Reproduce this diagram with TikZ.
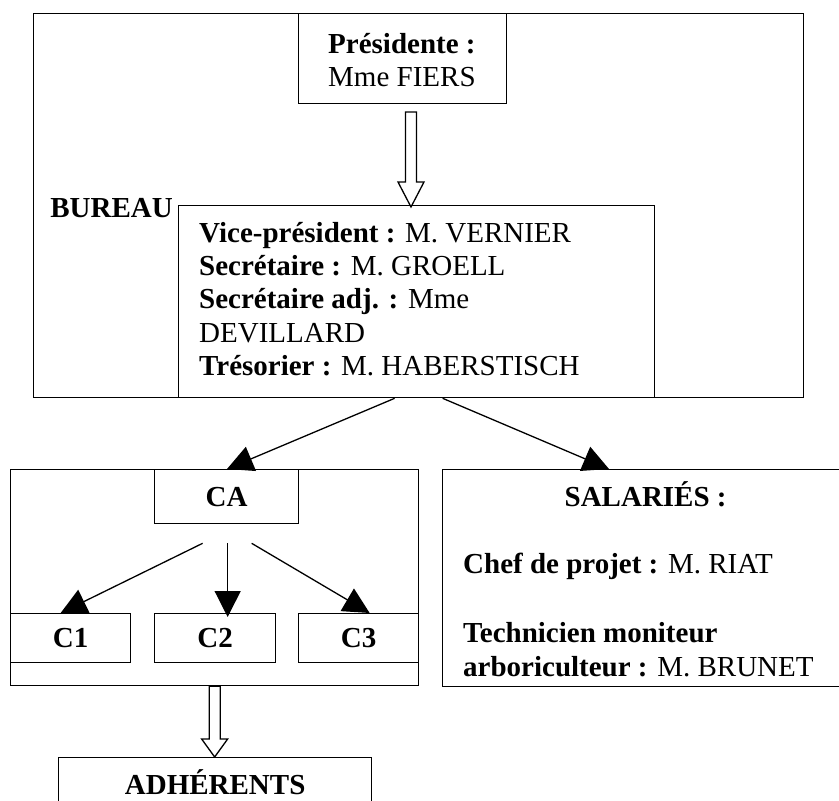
\documentclass[tikz,border=0pt]{standalone}
\usepackage{fontspec}
\setmainfont{Liberation Serif}
\usetikzlibrary{positioning,calc,arrows.meta}

\tikzset{
  box/.style={draw, line width=1.3pt, inner sep=0pt, anchor=north west},
  txt/.style={inner sep=0pt, align=left, anchor=north west},
  link/.style={line width=1.3pt, -{Triangle[length=26pt,width=26pt]}},
  hollow/.style={draw, line width=1.3pt, fill=white, line join=miter}
}
% hollow block arrow: start, tip, head length
\newcommand{\hollowarrow}[3]{%
  \draw[hollow] let \p1=(#1), \p2=(#2) in
    (\x1-5.5pt,\y1) -- (\x1-5.5pt,\y2+#3) -- (\x1-13pt,\y2+#3) -- (\x1,\y2)
    -- (\x1+13pt,\y2+#3) -- (\x1+5.5pt,\y2+#3) -- (\x1+5.5pt,\y1) -- cycle;}

\begin{document}
\begin{tikzpicture}[x=1pt, y=-1pt, font=\fontsize{29}{33.3}\selectfont]
\clip (0,0) rectangle (839,801);
\fill[white] (0,0) rectangle (839,801);

% bureau
\node[box, minimum width=770pt, minimum height=384pt] (bureau) at (33,13) {};
\node[box, minimum width=208pt, minimum height=90pt] (pres) at (298,13) {};
\node[txt, below right=20pt and 30pt of pres.north west] (prestxt)
  {\textbf{Présidente :}\\Mme FIERS};
\node[box, minimum width=476pt, minimum height=192pt] (members) at (178,205) {};
\node[txt, below right=17pt and 21pt of members.north west] (memberstxt)
  {\textbf{Vice-président :} M. VERNIER\\
   \textbf{Secrétaire :} M. GROELL\\
   \textbf{Secrétaire adj. :} Mme\\
   DEVILLARD\\
   \textbf{Trésorier :} M. HABERSTISCH};
\node[inner sep=0pt, anchor=base east] (burlbl) at ($(members.north west)+(-5,12)$)
  {\textbf{BUREAU}};

\coordinate (p1) at (411,112);
\coordinate (p2) at (411,207);
\hollowarrow{p1}{p2}{25pt}

% conseil + commissions
\node[box, minimum width=408pt, minimum height=216pt] (cttee) at (10,469) {};
\node[box, minimum width=144pt, minimum height=54pt] (ca) at (154,469) {\textbf{CA}};
\node[box, minimum width=120pt, minimum height=49pt] (c1) at (10,613) {\textbf{C1}};
\node[box, minimum width=121pt, minimum height=49pt] (c2) at (154,613) {\textbf{C2}};
\node[box, minimum width=120pt, minimum height=49pt] (c3) at (298,613) {\textbf{C3}};

% salaries
\node[box, minimum width=406pt, minimum height=217pt] (staff) at (442,469) {};
\node[inner sep=0pt, anchor=base] (stafftitle) at ($(staff.north)+(0,37)$)
  {\textbf{SALARIÉS :}};
\node[txt, below right=84pt and 21pt of staff.north west] (stafftxt)
  {\textbf{Chef de projet :} M. RIAT\\[36pt]
   \textbf{Technicien moniteur}\\
   \textbf{arboriculteur :} M. BRUNET};

% adherents
\node[box, minimum width=313pt, minimum height=50pt] (adh) at (58,757) {\textbf{ADHÉRENTS}};

\coordinate (catip) at ($(cttee.north west)+(217,0)$);
\coordinate (stafftip) at ($(staff.north west)+(167,0)$);
\draw[link] ($(members.south)+(-22,0)$) -- (catip);
\draw[link] ($(members.south)+(26,0)$) -- (stafftip);

\coordinate (c1tip) at ($(c1.north)+(-10,0)$);
\coordinate (c2tip) at ($(c2.north)+(12.5,4)$);
\coordinate (c3tip) at ($(c3.north)+(11,0)$);
\foreach \dx/\tgt in {-24/c1tip, 1/c2tip, 25/c3tip}
  \draw[link] ($(ca.south)+(\dx,19)$) -- (\tgt);

\hollowarrow{cttee.south}{adh.north}{18pt}
\end{tikzpicture}
\end{document}
